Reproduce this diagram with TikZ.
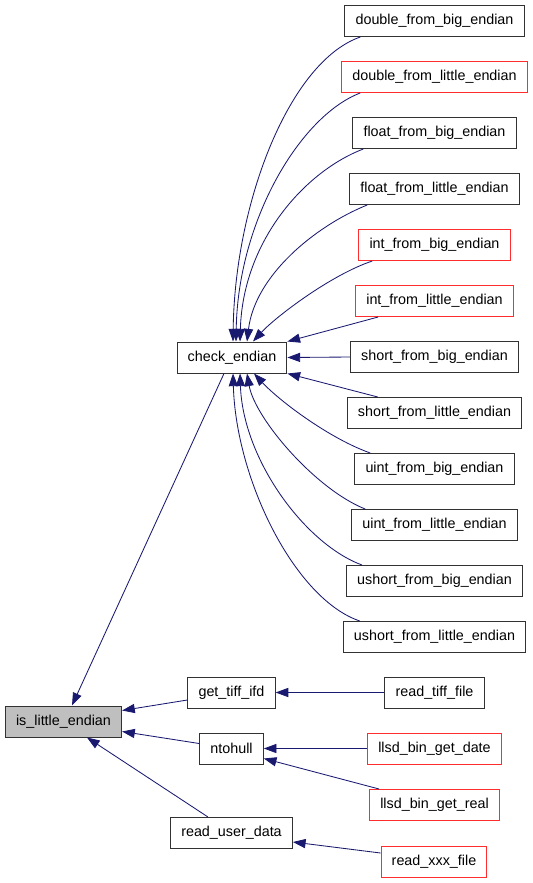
\documentclass[tikz,border=0pt]{standalone}
\usepackage{fontspec}
\setmainfont{Liberation Sans}
\usepackage{tikz}
\usetikzlibrary{arrows.meta,calc}
\definecolor{edgeblue}{RGB}{25,25,112}
\definecolor{boxred}{RGB}{255,45,45}
\definecolor{boxgray}{RGB}{191,191,191}
\definecolor{boxline}{RGB}{50,50,50}

\begin{document}
\begin{tikzpicture}[x=0.025cm,y=-0.025cm,
  fn/.style={draw=boxline,line width=0.7pt,fill=white,minimum height=0.775cm,
    inner xsep=7.6pt,font=\fontsize{10.2}{12}\selectfont},
  fnred/.style={fn,draw=boxred},
  fnmain/.style={fn,fill=boxgray},
  call/.style={draw=edgeblue,line width=0.6pt,-{Triangle[length=9pt,width=6.5pt]}}]
  \useasboundingbox (0,0) rectangle (533,883);

  % right column: callers of check_endian
  \foreach \nm/\txt/\st [count=\i from 0] in {
      dfbe/double\_from\_big\_endian/fn,
      dfle/double\_from\_little\_endian/fnred,
      ffbe/float\_from\_big\_endian/fn,
      ffle/float\_from\_little\_endian/fn,
      ifbe/int\_from\_big\_endian/fnred,
      ifle/int\_from\_little\_endian/fnred,
      sfbe/short\_from\_big\_endian/fn,
      sfle/short\_from\_little\_endian/fn,
      ufbe/uint\_from\_big\_endian/fn,
      ufle/uint\_from\_little\_endian/fn,
      usfbe/ushort\_from\_big\_endian/fn,
      usfle/ushort\_from\_little\_endian/fn}
    \node[\st] (\nm) at (434.5,21+56*\i) {\txt};

  \node[fn] (check) at (232,357.5) {check\_endian};
  \node[fnmain] (isle) at (63.5,721.5) {is\_little\_endian};
  \node[fn] (gtif) at (231.5,692.5) {get\_tiff\_ifd};
  \node[fn] (ntoh) at (231.5,748.5) {ntohull};
  \node[fn] (rud) at (231.5,833) {read\_user\_data};
  \node[fn] (rtif) at (434.5,692.5) {read\_tiff\_file};
  \node[fnred] (lgd) at (434.5,748.5) {llsd\_bin\_get\_date};
  \node[fnred] (lgr) at (434.5,805) {llsd\_bin\_get\_real};
  \node[fnred] (rxf) at (434,861.5) {read\_xxx\_file};

  % curved calls into check_endian
  \draw[call] ($(dfbe.south west)+(16,0)$) .. controls +(-70,24) and +(2,-141) .. ($(check.north)+(1,0)$);
  \draw[call] ($(dfle.south west)+(19,0)$) .. controls +(-60,23) and +(2,-121) .. ($(check.north)+(4,0)$);
  \draw[call] ($(ffbe.south west)+(11,0)$) .. controls +(-58,22) and +(3,-101) .. ($(check.north)+(8,0)$);
  \draw[call] ($(ffle.south west)+(18,0)$) .. controls +(-52,21) and +(8,-66) .. ($(check.north)+(15,0)$);
  \draw[call] ($(ifbe.south west)+(14,0)$) .. controls +(-42,14) and +(22,-24) .. ($(check.north)+(21,0)$);
  \draw[call] ($(ifle.south west)+(23,0)$) -- (check.north east);
  \draw[call] (sfbe.west) -- (check.east);
  \draw[call] ($(sfle.north west)+(31,0)$) -- (check.south east);
  \draw[call] ($(ufbe.north west)+(16,0)$) .. controls +(-40,-14) and +(26,28) .. ($(check.south)+(22,0)$);
  \draw[call] ($(ufle.north west)+(14,0)$) .. controls +(-50,-20) and +(8,45) .. ($(check.south)+(15,0)$);
  \draw[call] ($(usfbe.north west)+(16,0)$) .. controls +(-57,-21) and +(3,86) .. ($(check.south)+(8,0)$);
  \draw[call] ($(usfle.north west)+(17,0)$) .. controls +(-65,-22) and +(3,106) .. ($(check.south)+(1,0)$);

  % calls into is_little_endian
  \draw[call] ($(check.south)+(-8,0)$) -- ($(isle.north)+(8.5,0)$);
  \draw[call] ($(gtif.west)+(0,7.5)$) -- ($(isle.east)+(0,-11)$);
  \draw[call] ($(ntoh.west)+(0,-5)$) -- ($(isle.east)+(0,10)$);
  \draw[call] ($(rud.north)+(-23.5,0)$) -- ($(isle.south)+(23.5,0)$);

  % second level callers
  \draw[call] (rtif.west) -- (gtif.east);
  \draw[call] (lgd.west) -- (ntoh.east);
  \draw[call] ($(lgr.north west)+(10,0)$) -- ($(ntoh.south east)+(0,-6)$);
  \draw[call] ($(rxf.west)+(0,-8.5)$) -- ($(rud.east)+(0,9)$);
\end{tikzpicture}
\end{document}
